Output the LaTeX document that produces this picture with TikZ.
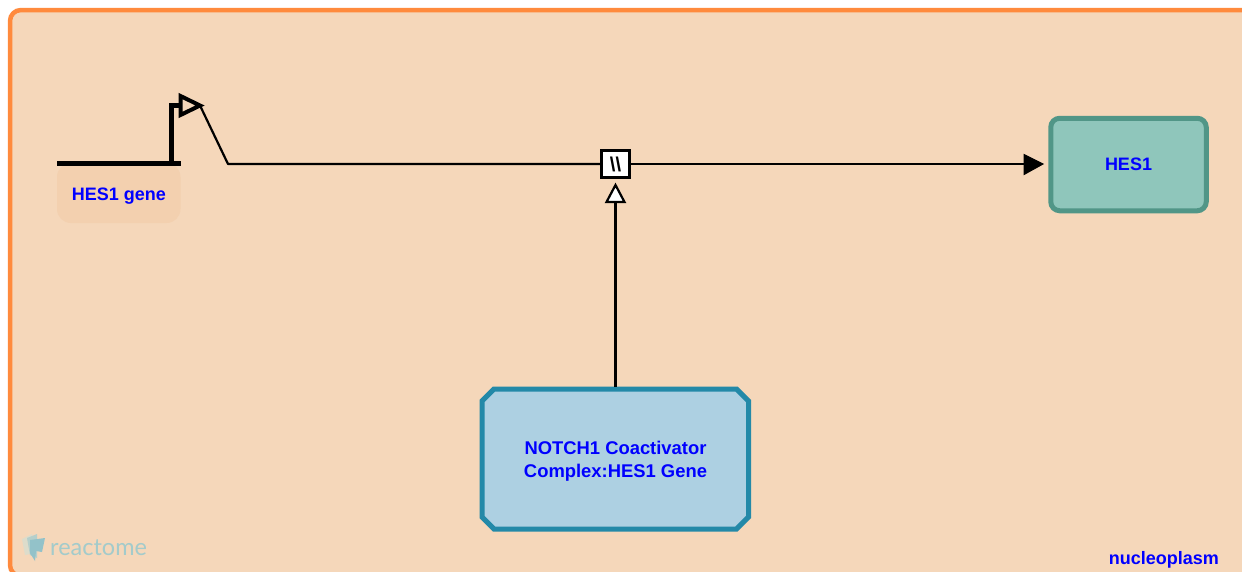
\documentclass[tikz,border=0pt]{standalone}
\usepackage{fontspec}
\setmainfont{Liberation Sans}
\newfontfamily\logofont{Lato}
\usetikzlibrary{arrows.meta,shapes.misc}
\definecolor{compbg}{HTML}{F5D7BA}
\definecolor{compline}{HTML}{FF8A3D}
\definecolor{genebg}{HTML}{F3D0AF}
\definecolor{protbg}{HTML}{8FC6BB}
\definecolor{protline}{HTML}{519687}
\definecolor{cplxbg}{HTML}{ADD0E2}
\definecolor{cplxline}{HTML}{2389A8}
\definecolor{lbl}{HTML}{0000FF}
\definecolor{logotext}{HTML}{A3CBCB}
\definecolor{logoa}{HTML}{DDDCCB}
\definecolor{logob}{HTML}{B5CFCB}
\definecolor{logoc}{HTML}{93C2C9}
\tikzset{
  x=1pt,y=-1pt,
  lab/.style={font=\fontsize{18}{23.5}\selectfont\bfseries,text=lbl,align=center,inner sep=0pt},
  conn/.style={draw=black,line width=2.2pt},
  protnode/.style={draw=protline,fill=protbg,line width=5pt,rounded corners=9pt},
  cplxnode/.style={draw=cplxline,fill=cplxbg,line width=5pt,line join=miter},
  procnode/.style={draw=black,fill=white,line width=2.8pt,minimum size=27.5pt,inner sep=0pt,font=\fontsize{20}{20}\selectfont\bfseries},
  genepart/.style={draw=black,line width=5pt,line cap=butt,line join=miter},
  fulltip/.style={fill=black,draw=black,line width=1pt,line join=miter},
  opentip/.style={fill=white,draw=black,line width=2.2pt,line join=miter},
}
\begin{document}
\begin{tikzpicture}
\useasboundingbox (0,0) rectangle (1242,571);
\fill[white] (0,0) rectangle (1242,571);
\begin{scope}
\clip (0,0) rectangle (1242,571);
\draw[draw=compline,fill=compbg,line width=4.5pt,rounded corners=11pt] (10,10) rectangle (1270,576);
\end{scope}
% gene
\fill[genebg,rounded corners=14pt] (57,163) -- (57,223) -- (180.5,223) -- (180.5,163) -- cycle;
\coordinate (g1) at (57,163.5);
\coordinate (g2) at (180.5,163.5);
\draw[genepart] (g1) -- (g2);
\coordinate (gs) at (171.5,163.5);
\coordinate (gt) at (171.5,105);
\coordinate (ge) at (181,105);
\draw[genepart] (gs) -- (gt) -- (ge);
\coordinate (pa) at (180.5,96);
\coordinate (pb) at (180.5,115);
\coordinate (pc) at (200,105.5);
\draw[draw=black,fill=compbg,line width=4pt,line join=miter] (pa) -- (pc) -- (pb) -- cycle;
\node[lab] (genelabel) at (119,196.5) {HES1 gene};
% nodes
\node[protnode,minimum width=155.5pt,minimum height=92.5pt,lab] (hes) at (1128.5,164.5) {\rule{0pt}{2pt}HES1};
\path[cplxnode] (494,389) -- (736.5,389) -- (748.5,401) -- (748.5,517) -- (736.5,529) -- (494,529) -- (482,517) -- (482,401) -- cycle;
\node[lab,font=\fontsize{18.4}{23.5}\selectfont\bfseries] (cplx) at (615.5,461) {NOTCH1 Coactivator\\Complex:HES1 Gene};
\node[procnode] (proc) at (615.5,164) {\textbackslash\textbackslash};
% connectors
\coordinate (a0) at (200,105.5);
\coordinate (a1) at (228,164);
\coordinate (tipbase) at (1024,164);
\coordinate (tip) at (1043,164);
\draw[conn,line join=round] (a0) -- (a1) -- (proc.west);
\draw[conn] (proc.east) -- (tipbase);
\draw[fulltip] (1024,154.5) -- (tip) -- (1024,174.5) -- cycle;
\coordinate (cplxtop) at (615.5,387);
\coordinate (cb) at (615.5,202);
\draw[conn] (cplxtop) -- (cb);
\draw[opentip] (606.5,202) -- (615.5,185) -- (624.5,202) -- cycle;
% compartment label
\node[lab,anchor=east] (comp) at (1219,559.5) {nucleoplasm};
% logo
\fill[logoa] (22,539) -- (32,534) -- (35,553) -- (25,555) -- cycle;
\fill[logob] (27,538) -- (37,534) -- (37,558) -- (30,555) -- cycle;
\fill[logoc] (30,540) -- (45,538) -- (42,552) -- (36,551) -- (35,561) -- (30,553) -- cycle;
\node[anchor=west,inner sep=0pt,text=logotext,font=\logofont\fontsize{23.5}{23.5}\selectfont] (logo) at (50,548) {reactome};
\end{tikzpicture}
\end{document}
